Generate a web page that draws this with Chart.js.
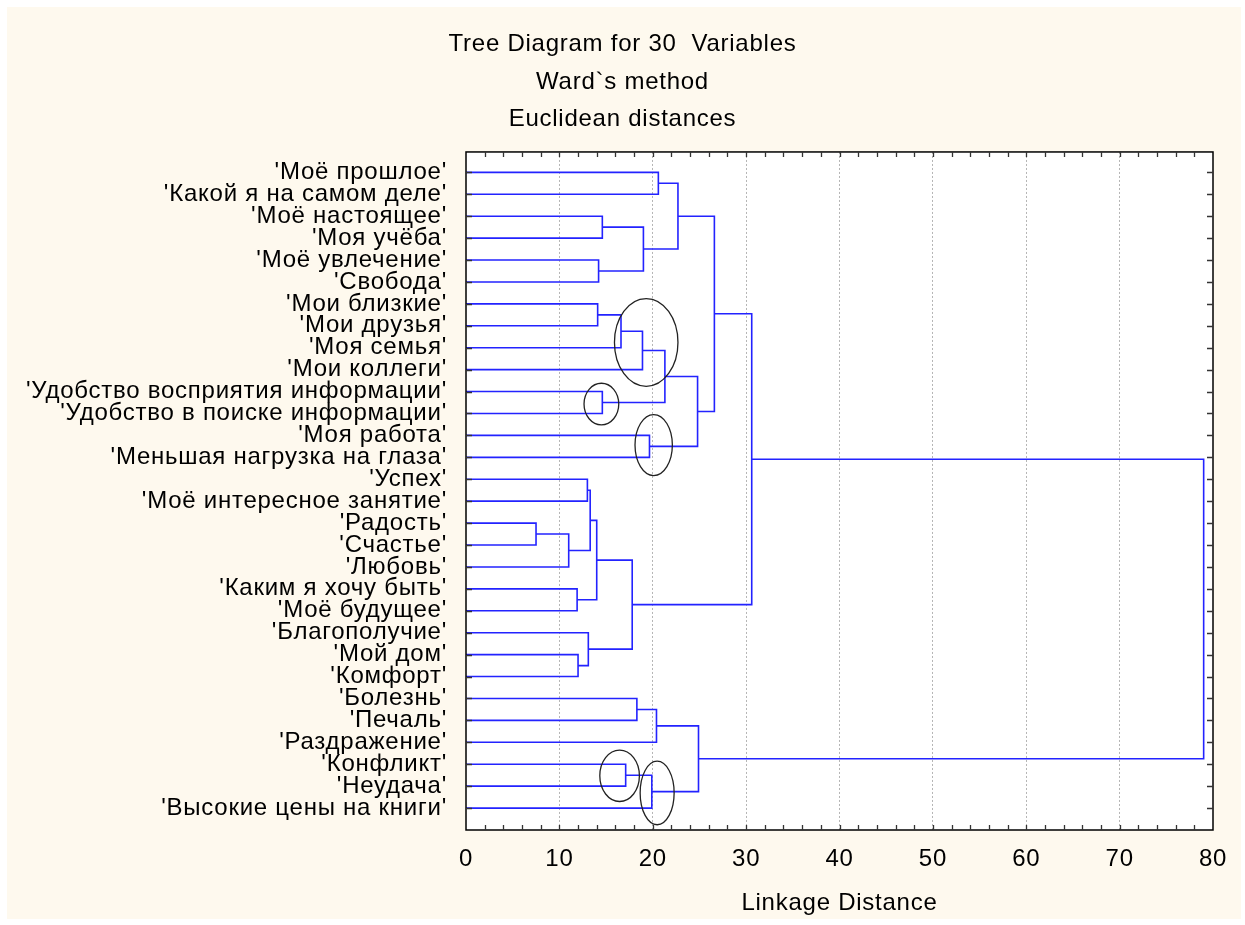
<!DOCTYPE html>
<html>
<head>
<meta charset="utf-8">
<title>Tree Diagram for 30 Variables</title>
<script src="https://cdn.jsdelivr.net/npm/chart.js@4.4.1/dist/chart.umd.min.js"></script>
<style>
  html, body { margin: 0; padding: 0; background: #ffffff; }
  #wrap { width: 1245px; height: 925px; position: relative; }
</style>
</head>
<body>
<div id="wrap"><canvas id="tree"></canvas></div>
<script>
// variables, top to bottom (row index = position on the y axis)
const rowLabels = [
  "Моё прошлое", "Какой я на самом деле", "Моё настоящее", "Моя учёба",
  "Моё увлечение", "Свобода", "Мои близкие", "Мои друзья", "Моя семья",
  "Мои коллеги", "Удобство восприятия информации", "Удобство в поиске информации",
  "Моя работа", "Меньшая нагрузка на глаза", "Успех", "Моё интересное занятие",
  "Радость", "Счастье", "Любовь", "Каким я хочу быть", "Моё будущее",
  "Благополучие", "Мой дом", "Комфорт", "Болезнь", "Печаль", "Раздражение",
  "Конфликт", "Неудача", "Высокие цены на книги"
];

// joins: ids < 30 are rows, id 30 + k is the cluster made by join k
const mergeA = [0, 2, 4, 31, 30, 6, 35, 36, 10, 37, 12, 39, 34,
                14, 16, 44, 43, 19, 46, 22, 21, 48, 42,
                24, 53, 27, 55, 54, 52];
const mergeB = [1, 3, 5, 32, 33, 7, 8, 9, 11, 38, 13, 40, 41,
                15, 17, 18, 45, 20, 47, 23, 49, 50, 51,
                25, 26, 28, 29, 56, 57];
const mergeHeight = [20.6, 14.6, 14.2, 19.0, 22.7, 14.1, 16.6, 18.9, 14.6, 21.3, 19.65, 24.8, 26.6,
                     13.0, 7.5, 11.0, 13.3, 11.9, 14.0, 12.0, 13.1, 17.8, 30.6,
                     18.3, 20.4, 17.1, 19.9, 24.9, 79.0];

const xTicks = [0, 10, 20, 30, 40, 50, 60, 70, 80];

// hand drawn ellipses on the original (distance, row, half width, half height)
const ringX = [19.3, 14.5, 20.1, 16.45, 20.47];
const ringY = [7.76, 10.57, 12.44, 27.53, 28.31];
const ringRx = [3.4, 1.86, 2.0, 2.12, 1.82];
const ringRy = [2.0, 0.95, 1.39, 1.17, 1.45];

const FONT = "'Liberation Sans', Arial, sans-serif";
const BLUE = "rgb(35,35,255)";

// build the elbow links of the dendrogram
const pos = rowLabels.map((_, i) => i);
const hgt = rowLabels.map(() => 0);
const datasets = [];
mergeHeight.forEach((h, k) => {
  const a = mergeA[k], b = mergeB[k];
  datasets.push({
    label: "join " + k,
    data: [
      { x: hgt[a], y: pos[a] },
      { x: h, y: pos[a] },
      { x: h, y: pos[b] },
      { x: hgt[b], y: pos[b] }
    ],
    showLine: true,
    borderColor: BLUE,
    borderWidth: 1.6,
    pointRadius: 0,
    fill: false,
    tension: 0
  });
  pos.push((pos[a] + pos[b]) / 2);
  hgt.push(h);
});

const paperPlugin = {
  id: "paper",
  beforeDraw(chart) {
    const { ctx, chartArea: a } = chart;
    ctx.fillStyle = "#ffffff";
    ctx.fillRect(0, 0, chart.width, chart.height);
    ctx.fillStyle = "#fef9ee";
    ctx.fillRect(7, 7, 1234, 912);
    ctx.fillStyle = "#ffffff";
    ctx.fillRect(a.left, a.top, a.right - a.left, a.bottom - a.top);
    // the original text is spaced a little wider
    ctx.letterSpacing = "0.75px";
  },
  afterDatasetsDraw(chart) {
    const { ctx, chartArea: a, scales: { x, y } } = chart;
    ctx.save();
    // ellipses
    ctx.strokeStyle = "#222222";
    ctx.lineWidth = 1.3;
    ringX.forEach((cx, i) => {
      const px = x.getPixelForValue(cx);
      const py = y.getPixelForValue(ringY[i]);
      const rx = Math.abs(x.getPixelForValue(cx + ringRx[i]) - px);
      const ry = Math.abs(y.getPixelForValue(ringY[i] + ringRy[i]) - py);
      ctx.beginPath();
      ctx.ellipse(px, py, rx, ry, 0, 0, Math.PI * 2);
      ctx.stroke();
    });
    // frame
    ctx.strokeStyle = "#000000";
    ctx.lineWidth = 1.5;
    ctx.strokeRect(a.left, a.top, a.right - a.left, a.bottom - a.top);
    // inward ticks
    ctx.strokeStyle = "#333333";
    ctx.lineWidth = 1.3;
    ctx.beginPath();
    for (let v = 2; v < 80; v += 2) {
      const px = Math.round(x.getPixelForValue(v)) + 0.5;
      ctx.moveTo(px, a.bottom); ctx.lineTo(px, a.bottom - 5);
      ctx.moveTo(px, a.top); ctx.lineTo(px, a.top + 5);
    }
    rowLabels.forEach((_, i) => {
      const py = Math.round(y.getPixelForValue(i)) + 0.5;
      ctx.moveTo(a.left, py); ctx.lineTo(a.left + 6, py);
      ctx.moveTo(a.right, py); ctx.lineTo(a.right - 6, py);
    });
    ctx.stroke();
    ctx.restore();
  }
};

new Chart(document.getElementById("tree"), {
  type: "scatter",
  data: { datasets },
  plugins: [paperPlugin],
  options: {
    responsive: true,
    maintainAspectRatio: false,
    animation: false,
    layout: { padding: 0 },
    plugins: {
      legend: { display: false },
      tooltip: { enabled: false },
      title: {
        display: true,
        text: ["Tree Diagram for 30  Variables", "Ward`s method", "Euclidean distances"],
        color: "#000000",
        font: { family: FONT, size: 24, weight: "normal", lineHeight: 1.555 },
        padding: { top: 26, bottom: 14 }
      }
    },
    scales: {
      x: {
        type: "linear",
        min: 0,
        max: 80,
        afterBuildTicks: (scale) => { scale.ticks = xTicks.map(v => ({ value: v })); },
        ticks: {
          color: "#000000",
          font: { family: FONT, size: 24 },
          padding: 15,
          maxRotation: 0
        },
        grid: {
          drawTicks: false,
          lineWidth: 1,
          color: (c) => (c.tick && (c.tick.value === 0 || c.tick.value === 80)) ? "rgba(0,0,0,0)" : "#b5b5b5"
        },
        border: { display: false, dash: [2, 2] },
        title: {
          display: true,
          text: "Linkage Distance",
          color: "#000000",
          font: { family: FONT, size: 24 },
          padding: { top: 0, bottom: 7 }
        },
        afterFit: (scale) => { scale.height = 95; }
      },
      y: {
        type: "linear",
        reverse: true,
        min: -0.93,
        max: 30,
        afterBuildTicks: (scale) => { scale.ticks = rowLabels.map((_, i) => ({ value: i })); },
        ticks: {
          autoSkip: false,
          color: "#000000",
          font: { family: FONT, size: 24 },
          padding: 19,
          callback: (v) => rowLabels[v] !== undefined ? "'" + rowLabels[v] + "'" : ""
        },
        grid: { display: false, drawTicks: false },
        border: { display: false },
        afterFit: (scale) => { scale.width = 466; }
      },
      // empty right axis, only to keep the margin right of the frame
      yRight: {
        type: "linear",
        position: "right",
        min: 0,
        max: 1,
        ticks: { display: false },
        grid: { display: false, drawTicks: false },
        border: { display: false },
        afterFit: (scale) => { scale.width = 32; }
      }
    }
  }
});
</script>
</body>
</html>
